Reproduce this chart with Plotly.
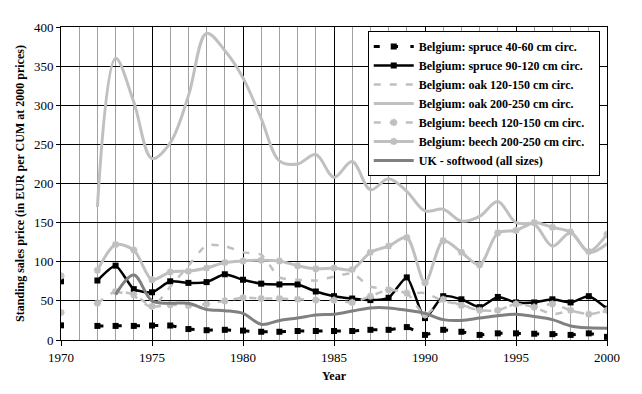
import plotly.graph_objects as go

years = list(range(1970, 2001))

spruce_40_60 = [18.75, None, 18, 18, 18, 18.5, 18.5, 14, 12.5, 13, 12, 10.5, 10.5, 11.5, 11.5, 11.5,
                11.5, 13, 13, 16.5, 6.5, 13, 10.5, 6.5, 8.5, 8.5, 8, 7.5, 6.5, 8.5, 4]
spruce_90_120 = [75, None, 76, 95, 65, 61, 75, 73, 74, 84, 77, 72, 71, 71, 62, 56,
                 53, 51, 54, 80, 28, 56, 52, 42, 55, 48, 48, 52, 48, 56, 40]
oak_120_150 = [None, None, None, 62, 56, 42, 68, 95, 121, 120, 112, 109, 80, 77, 76, 81,
               85, 68, 66, 60, 60, 50, 45, 38, 38, 46, 42, 33, 37, 33, 37]
oak_200_250 = [None, None, 170, 360, 304, 232, 252, 312, 392, 370, 335, 283, 229, 225, 237, 208,
               228, 192, 206, 190, 165, 167, 152, 158, 177, 150, 148, 120, 137, 112, 123]
beech_120_150 = [35, None, 47, 62, 58, 43, 45, 44, 46, 50, 54, 53, 53, 52, 51, 51,
                 48, 56, 64, 60, 32, 52, 44, 38, 38, 46, 42, 46, 38, 33, 38]
beech_200_250 = [82, None, 89, 122, 115, 77, 87, 88, 92, 99, 101, 102, 101, 95, 91, 92,
                 90, 112, 120, 131, 73, 127, 112, 96, 137, 140, 150, 144, 138, 113, 135]
uk_softwood = [None, None, None, 58, 83, 50, 47, 47, 39, 37.5, 34, 20, 25, 28, 32, 33,
               37, 41, 41, 38, 34, 26, 25, 28, 31, 33, 30, 26, 18, 15.5, 15]

names = ["Belgium: spruce 40-60 cm circ.", "Belgium: spruce 90-120 cm circ.",
         "Belgium: oak 120-150 cm circ.", "Belgium: oak 200-250 cm circ.",
         "Belgium: beech 120-150 cm circ.", "Belgium: beech 200-250 cm circ.",
         "UK - softwood (all sizes)"]
PAD = "\u00a0\u00a0\u00a0"

LIGHT = "#C0C0C0"
DARK = "#808080"
FONT = "Liberation Serif"

fig = go.Figure()

fig.add_trace(go.Scatter(x=years, y=spruce_40_60, name=names[0] + PAD, mode="lines+markers",
                         line=dict(color="black", width=3, dash="6px,12.3px"),
                         marker=dict(symbol="square", size=6, color="black")))
fig.add_trace(go.Scatter(x=years, y=spruce_90_120, name=names[1] + PAD, mode="lines+markers",
                         line=dict(color="black", width=2.5, shape="spline", smoothing=0.6),
                         marker=dict(symbol="square", size=6, color="black")))
fig.add_trace(go.Scatter(x=years, y=oak_120_150, name=names[2] + PAD, mode="lines",
                         line=dict(color=LIGHT, width=2.5, dash="7px,9px", shape="spline", smoothing=0.6)))
fig.add_trace(go.Scatter(x=years, y=oak_200_250, name=names[3] + PAD, mode="lines",
                         line=dict(color=LIGHT, width=3, shape="spline", smoothing=1.0)))
fig.add_trace(go.Scatter(x=years, y=beech_120_150, name=names[4] + PAD, mode="lines+markers",
                         line=dict(color=LIGHT, width=2.5, dash="7px,9px", shape="spline", smoothing=0.6),
                         marker=dict(symbol="asterisk-open", size=6, color=LIGHT,
                                     line=dict(color=LIGHT, width=2))))
fig.add_trace(go.Scatter(x=years, y=beech_200_250, name=names[5] + PAD, mode="lines+markers",
                         line=dict(color=LIGHT, width=3, shape="spline", smoothing=0.8),
                         marker=dict(symbol="asterisk-open", size=6, color=LIGHT,
                                     line=dict(color=LIGHT, width=2))))
fig.add_trace(go.Scatter(x=years, y=uk_softwood, name=names[6] + PAD, mode="lines",
                         line=dict(color=DARK, width=3, shape="spline", smoothing=1.0)))

# page body has an 8px margin, so the figure is offset by (8, 8)
OFF = 8
L, R, T, B = 57 - OFF, 35, 21 - OFF, 54
W, H = 642 - OFF, 394 - OFF
pw, ph = W - L - R, H - T - B

fig.update_layout(
    width=W, height=H,
    margin=dict(l=L, r=R, t=T, b=B, pad=0),
    paper_bgcolor="white", plot_bgcolor="white",
    font=dict(family=FONT, size=13, color="black"),
    showlegend=True,
    legend=dict(x=(366 - 57) / pw, y=(ph - (25 - 21)) / ph, xanchor="left", yanchor="top",
                bgcolor="white", bordercolor="black", borderwidth=1,
                font=dict(family=FONT, size=12, color="black", weight="bold"),
                itemwidth=40, tracegroupgap=0),
    xaxis=dict(range=[1970, 2000], dtick=5, tick0=1970, showgrid=True, gridcolor="black", gridwidth=1,
               minor=dict(dtick=1, showgrid=True, gridcolor="#A0A0A0", gridwidth=1),
               showline=True, linecolor="black", linewidth=1, mirror=True,
               ticks="outside", ticklen=5, tickcolor="black", zeroline=False,
               title=dict(text="<b>Year</b>", font=dict(family=FONT, size=12), standoff=8),
               tickfont=dict(family=FONT, size=13)),
    yaxis=dict(range=[0, 400], dtick=50, showgrid=True, gridcolor="black", gridwidth=1,
               showline=True, linecolor="black", linewidth=1, mirror=True,
               ticks="outside", ticklen=4, tickcolor="black", zeroline=False,
               title=dict(text="<b>Standing sales price (in EUR per CUM at 2000 prices)</b>",
                          font=dict(family=FONT, size=12), standoff=6),
               tickfont=dict(family=FONT, size=13)),
)

fig.write_html("out.html")
